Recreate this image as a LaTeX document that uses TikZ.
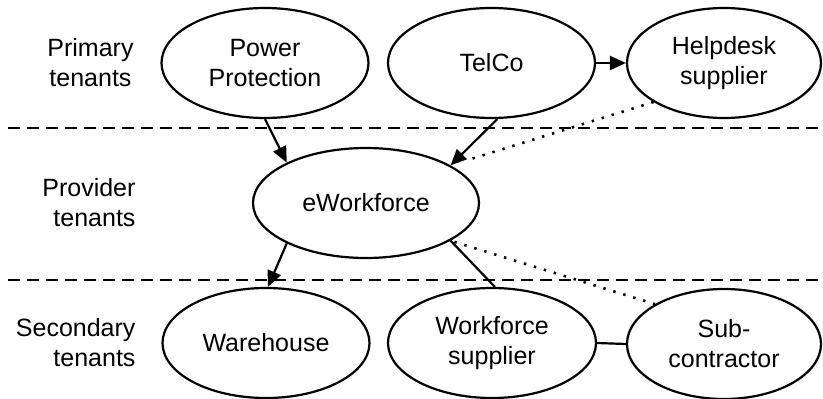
\documentclass[tikz,border=0pt]{standalone}
\usepackage{fontspec}
\setmainfont{Liberation Sans}
\usetikzlibrary{shapes.geometric,arrows.meta}

\tikzset{
  tenant/.style={ellipse, draw, line width=2.2pt, inner sep=0pt,
    minimum width=207pt, minimum height=110pt, align=center,
    font=\fontsize{25pt}{30pt}\selectfont},
  rowlabel/.style={align=center, font=\fontsize{25pt}{30pt}\selectfont},
  tier/.style={line width=2.2pt, dash pattern=on 12pt off 7pt},
  link/.style={line width=2.2pt},
  flow/.style={line width=2.2pt, -{Triangle[length=16pt,width=14pt]}},
  loose/.style={line width=2.6pt, dash pattern=on 2.4pt off 8pt},
}

\begin{document}
\begin{tikzpicture}[x=1pt, y=-1pt]
  \useasboundingbox (0,0) rectangle (823,399);

  % tier separators
  \coordinate (t1a) at (8,128);
  \coordinate (t1b) at (823,128);
  \coordinate (t2a) at (8,280);
  \coordinate (t2b) at (823,280);
  \draw[tier] (t1a) -- (t1b);
  \draw[tier] (t2a) -- (t2b);

  % row labels
  \node[rowlabel] (lprim) at (90.5,63) {Primary\\tenants};
  \node[rowlabel, align=right, anchor=east] (lprov) at (139,203) {Provider\\tenants};
  \node[rowlabel, align=right, anchor=east] (lsec) at (139,343) {Secondary\\tenants};

  % tenants
  \node[tenant] (pp) at (265,63) {Power\\Protection};
  \node[tenant] (tc) at (491.5,63) {TelCo};
  \node[tenant, minimum width=194pt] (hd) at (724,63) {Helpdesk\\supplier};
  \node[tenant, minimum width=226pt] (ew) at (366,203) {eWorkforce};
  \node[tenant] (wh) at (266,343) {Warehouse};
  \node[tenant, minimum width=208pt] (ws) at (492,343) {Workforce\\supplier};
  \node[tenant, minimum width=194pt] (sc) at (724,344) {Sub-\\contractor};

  % relations
  \draw[flow] (pp.south) -- (ew.153);
  \draw[flow] (tc.-84) -- (ew.24);
  \draw[flow] (tc.east) -- (hd.west);
  \draw[loose, shorten >=17pt] (hd.209) -- (ew.24);
  \draw[flow] (ew.-153) -- (wh.88);
  \draw[link] (ew.-24) -- (ws.87);
  \draw[loose, shorten <=4pt] (ew.-24) -- (sc.150);
  \draw[link] (ws.east) -- (sc.west);
\end{tikzpicture}
\end{document}
